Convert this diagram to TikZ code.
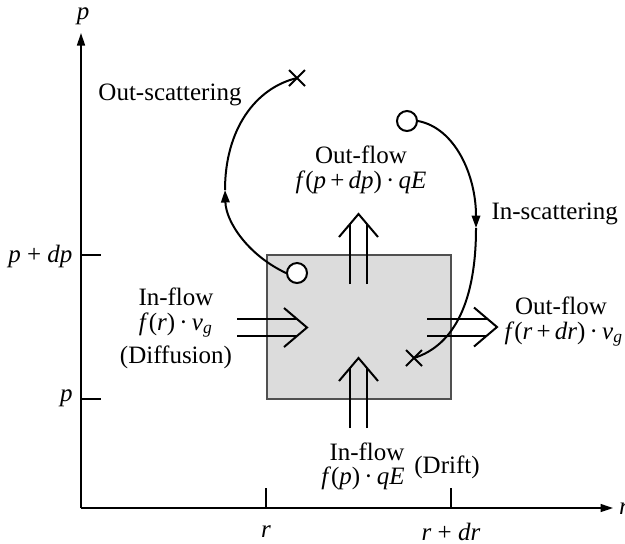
\documentclass[tikz,border=0pt]{standalone}
\usepackage{fontspec}
\setmainfont{Liberation Serif}
\usetikzlibrary{arrows.meta,shapes.misc}
\definecolor{cellgray}{HTML}{DCDCDC}
\definecolor{celledge}{HTML}{505050}
\begin{document}
\begin{tikzpicture}[x=0.4pt,y=-0.4pt,
  axisline/.style={line width=0.6pt},
  tickline/.style={line width=0.6pt},
  flowline/.style={line width=0.8pt,line join=miter},
  scatline/.style={line width=0.8pt},
  scattip/.style={-{Triangle[length=5pt,width=3.4pt]}},
  lbl/.style={inner sep=0pt,font=\fontsize{10}{12}\selectfont},
  cellbox/.style={draw=celledge,fill=cellgray,line width=0.5pt,inner sep=0pt,
    minimum width=73.6pt,minimum height=57.6pt},
  startdot/.style={circle,draw,fill=white,line width=0.8pt,inner sep=0pt,minimum size=8pt},
  enddot/.style={cross out,draw,line width=0.8pt,inner sep=0pt,minimum size=5.6pt},
  dblarrow/.pic={
    \draw[flowline] (-70,8.5) -- (-10,8.5);
    \draw[flowline] (-70,-8.5) -- (-10,-8.5);
    \draw[flowline] (-23,19.5) -- (0,0) -- (-23,-19.5);
  }]
\useasboundingbox (0,0) rectangle (625,543);
\clip (0,0) rectangle (625,543);

% axes
\coordinate (O) at (81,508);
\coordinate (ytop) at (81,33);
\coordinate (xend) at (613,508);
\draw[axisline,-{Triangle[length=5pt,width=3.2pt]}] (O) -- (ytop);
\draw[axisline,-{Triangle[length=5pt,width=3.2pt]}] (O) -- (xend);
\node[lbl] (plab) at (83,16) {\textit{p}};
\node[lbl] (rcut) at (624,509) {\textit{r}};

% ticks
\coordinate (t1a) at (81,255); \coordinate (t1b) at (101,255);
\coordinate (t2a) at (81,399); \coordinate (t2b) at (101,399);
\coordinate (t3a) at (266,508); \coordinate (t3b) at (266,488);
\coordinate (t4a) at (451,508); \coordinate (t4b) at (451,488);
\draw[tickline] (t1a) -- (t1b);
\draw[tickline] (t2a) -- (t2b);
\draw[tickline] (t3a) -- (t3b);
\draw[tickline] (t4a) -- (t4b);
\node[lbl,anchor=east] (pdp) at (73,256) {\textit{p} + \textit{dp}};
\node[lbl,anchor=east] (pp) at (73,398) {\textit{p}};
\node[lbl] (rr) at (266,532) {\textit{r}};
\node[lbl] (rdr) at (451,532) {\textit{r} + \textit{dr}};

% cell
\node[cellbox] (cell) at (359,327) {};

% flow arrows
\pic (inleft) at (307,327.5) {dblarrow};
\pic (outright) at (497,327) {dblarrow};
\pic[rotate=90] (outtop) at (358.5,214) {dblarrow};
\pic[rotate=90] (inbottom) at (358.5,358) {dblarrow};

% scattering
\node[enddot] (xout) at (297,78) {};
\node[startdot] (oout) at (297,273) {};
\coordinate (midout) at (225,190);
\draw[scatline,scattip] (oout.west) .. controls (248,255) and (226,222) .. (midout);
\draw[scatline] (midout) .. controls (225,130) and (255,88) .. (xout.center);

\node[startdot] (oin) at (407,121) {};
\node[enddot] (xin) at (414,358) {};
\coordinate (midin) at (476,228);
\draw[scatline,scattip] (oin.east) .. controls (455,128) and (476,175) .. (midin);
\draw[scatline] (midin) .. controls (476,300) and (455,345) .. (xin.center);

% labels
\node[lbl] (outscat) at (170,95) {Out-scattering};
\node[lbl] (outflowtop) at (361,155) {Out-flow};
\node[lbl] (outflowtopf) at (361,182) {\textit{f}(\textit{p}\,+\,\textit{dp})\,·\,\textit{qE}};
\node[lbl,anchor=west] (inscat) at (491,214) {In-scattering};
\node[lbl] (inflowl) at (176,297) {In-flow};
\node[lbl] (inflowlf) at (176,325) {\textit{f}(\textit{r})\,·\,\textit{v}\textsubscript{\textit{g}}};
\node[lbl] (diffusion) at (176,357) {(Diffusion)};
\node[lbl] (outflowr) at (561,306) {Out-flow};
\node[lbl,anchor=west] (outflowrf) at (504,334) {\textit{f}(\textit{r}\,+\,\textit{dr})\,·\,\textit{v}\textsubscript{\textit{g}}};
\node[lbl] (inflowb) at (367,452) {In-flow};
\node[lbl] (inflowbf) at (363,478) {\textit{f}(\textit{p})\,·\,\textit{qE}};
\node[lbl] (drift) at (447,467) {(Drift)};
\end{tikzpicture}
\end{document}
